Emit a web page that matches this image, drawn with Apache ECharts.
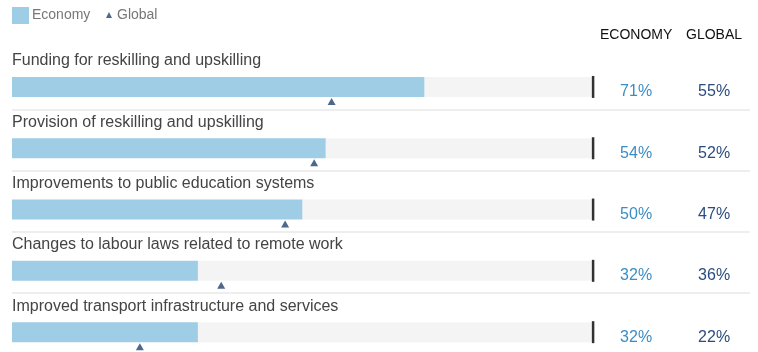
<!DOCTYPE html>
<html><head><meta charset="utf-8">
<script src="https://cdn.jsdelivr.net/npm/echarts@6/dist/echarts.min.js"></script>
<style>html,body{margin:0;padding:0;background:#fff}#c{width:758px;height:352px}</style>
</head><body><div id="c"></div>
<script>
const categories = [
  'Funding for reskilling and upskilling',
  'Provision of reskilling and upskilling',
  'Improvements to public education systems',
  'Changes to labour laws related to remote work',
  'Improved transport infrastructure and services'
];
const economy = [71, 54, 50, 32, 32];
const global = [55, 52, 47, 36, 22];
const fullScale = 100;

const FONT = 'Liberation Sans, Arial, sans-serif';
const chart = echarts.init(document.getElementById('c'), null, {renderer: 'canvas'});
chart.setOption({
  animation: false,
  textStyle: {fontFamily: FONT},
  title: {
    text: '{a|ECONOMY}{b|GLOBAL}',
    left: 600, top: 28, padding: 0,
    textStyle: {fontWeight: 'normal', rich: {
      a: {fontSize: 14, color: '#111', fontFamily: FONT, fontWeight: 'normal', width: 86},
      b: {fontSize: 14, color: '#111', fontFamily: FONT, fontWeight: 'normal'}
    }}
  },
  legend: [
    {data: ['Economy'], left: 12, top: 7, padding: 0, icon: 'rect', itemWidth: 17, itemHeight: 17,
     textStyle: {color: '#777', fontSize: 14, fontFamily: FONT, padding: [0, 0, 0, -2]}},
    {data: ['Global'], left: 106, top: 8, padding: 0, icon: 'triangle', itemWidth: 6, itemHeight: 6,
     textStyle: {color: '#777', fontSize: 14, fontFamily: FONT}}
  ],
  grid: {left: 12, right: 8, top: 48, height: 306.5, containLabel: false, outerBoundsMode: 'none'},
  xAxis: {type: 'value', min: 0, max: 127, show: false},
  yAxis: {
    type: 'category', data: categories, inverse: true,
    axisLine: {show: false}, axisTick: {show: false}, axisLabel: {show: false},
    splitLine: {show: true, interval: function (i) { return i !== 0 && i !== categories.length; },
      lineStyle: {color: '#eeeeee', width: 2}}
  },
  series: [
    {name: 'spacer', type: 'bar', data: categories.map(() => 0), barWidth: 16.6, barGap: 0,
     itemStyle: {color: 'rgba(0,0,0,0)'}, silent: true},
    {name: 'Economy', type: 'bar', stack: 'e', data: economy, barWidth: 20, barGap: 0,
     itemStyle: {color: '#a0cde6'},
     label: {show: true, position: [0, -16], align: 'left', verticalAlign: 'middle',
       fontSize: 16, color: '#444', fontFamily: FONT,
       formatter: p => categories[p.dataIndex]}},
    {name: 'rest', type: 'bar', stack: 'e', data: economy.map(v => fullScale - v), barWidth: 20, barGap: 0,
     itemStyle: {color: '#f4f4f4'}, silent: true,
     label: {show: true, position: 'right', distance: 27, offset: [0, 5],
       formatter: p => '{e|' + economy[p.dataIndex] + '%}{g|' + global[p.dataIndex] + '%}',
       rich: {
         e: {fontSize: 16, color: '#3b8dc5', width: 78, align: 'left', fontFamily: FONT},
         g: {fontSize: 16, color: '#2b4c7e', align: 'left', fontFamily: FONT}
       }}},
    {name: 'max', type: 'scatter', data: categories.map(c => [fullScale, c]), symbol: 'rect',
     symbolSize: [2.5, 22], symbolOffset: [0, 8.3], itemStyle: {color: '#000'}, silent: true, z: 5},
    {name: 'Global', type: 'scatter', data: global.map((v, i) => [v, categories[i]]), symbol: 'triangle',
     symbolSize: [8, 7], symbolOffset: [0, 22.8], itemStyle: {color: '#1f4270'}, z: 6}
  ]
});
</script></body></html>
